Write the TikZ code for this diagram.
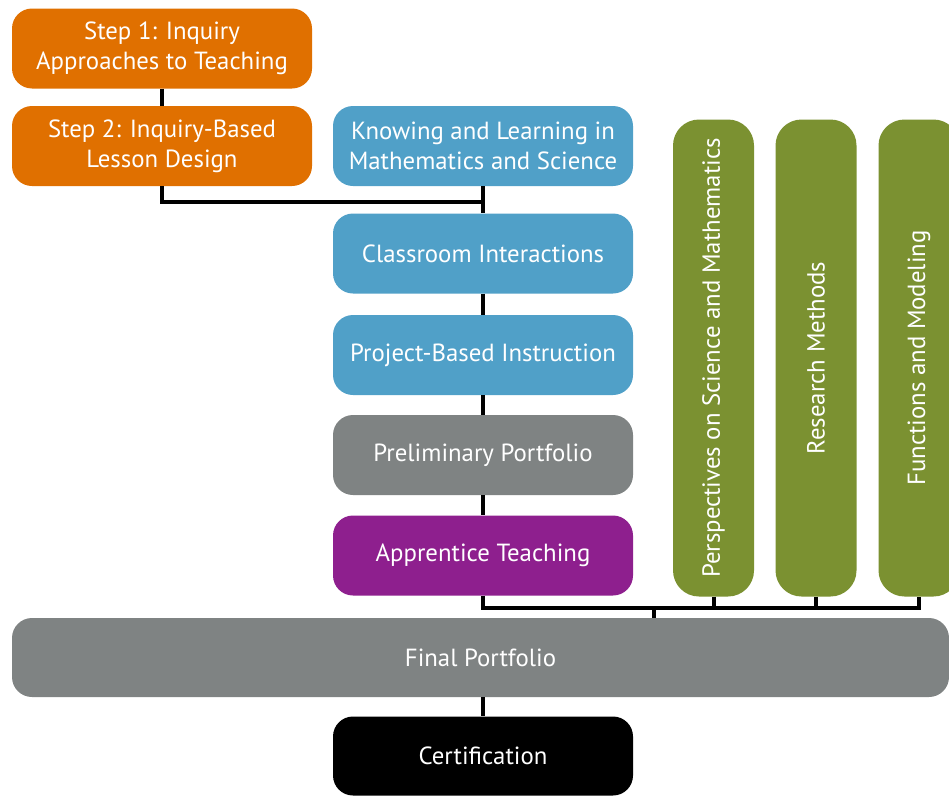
\documentclass[tikz,border=0pt]{standalone}
\usepackage{fontspec}
\setmainfont{PT Sans}

\definecolor{stepor}{RGB}{224,112,0}
\definecolor{courseblue}{RGB}{80,160,200}
\definecolor{portgray}{RGB}{127,131,131}
\definecolor{apprpurple}{RGB}{142,31,142}
\definecolor{electgreen}{RGB}{123,145,49}

\tikzset{
    box/.style={rounded corners=20pt, minimum width=300pt, minimum height=80pt,
        inner sep=0pt, align=center, text=white,
        font=\fontsize{24.8}{30}\selectfont},
    bar/.style={rounded corners=26pt, minimum width=477pt, minimum height=81pt,
        inner sep=0pt, rotate=90, text=white,
        font=\fontsize{24.8}{30}\selectfont},
    link/.style={line width=4pt}
}

\begin{document}
\begin{tikzpicture}[x=1pt,y=-1pt]
    \useasboundingbox (0,0) rectangle (949,795);
    \clip (0,0) rectangle (949,795);

    \node[box, fill=stepor] (step1) at (162,48.5) {Step 1: Inquiry\\Approaches to Teaching};
    \node[box, fill=stepor] (step2) at (162,146) {Step 2: Inquiry-Based\\Lesson Design};
    \node[box, fill=courseblue] (know) at (483,146) {Knowing and Learning in\\Mathematics and Science};
    \node[box, fill=courseblue] (class) at (483,253.5) {Classroom Interactions};
    \node[box, fill=courseblue] (proj) at (483,355) {Project-Based Instruction};
    \node[box, fill=portgray] (prelim) at (483,455) {Preliminary Portfolio};
    \node[box, fill=apprpurple] (appr) at (483,555.5) {Apprentice Teaching};

    \node[bar, fill=electgreen] (persp) at (713.5,358) {Perspectives on Science and Mathematics};
    \node[bar, fill=electgreen] (resmeth) at (816,358) {Research Methods};
    \node[bar, fill=electgreen] (funcmod) at (919,358) {Functions and Modeling};

    \node[box, fill=portgray, minimum width=937pt, minimum height=79pt] (final) at (480.5,657.5) {Final Portfolio};
    \node[box, fill=black, minimum height=79pt] (cert) at (483,756) {Certification};

    \coordinate (topjoin) at (483,202);
    \coordinate (botjoin) at (654,608);

    \path[draw, link] (step1.south) -- (step2.north);
    \path[draw, link] (step2.south) |- (topjoin);
    \path[draw, link] (know.south) -- (class.north);
    \path[draw, link] (class.south) -- (proj.north);
    \path[draw, link] (proj.south) -- (prelim.north);
    \path[draw, link] (prelim.south) -- (appr.north);
    \path[draw, link] (appr.south) |- (funcmod.west |- botjoin) -- (funcmod.west);
    \path[draw, link] (persp.west) -- (persp.west |- botjoin);
    \path[draw, link] (resmeth.west) -- (resmeth.west |- botjoin);
    \path[draw, link] (botjoin) -- (botjoin |- final.north);
    \path[draw, link] (final.south -| cert.north) -- (cert.north);

\end{tikzpicture}
\end{document}
